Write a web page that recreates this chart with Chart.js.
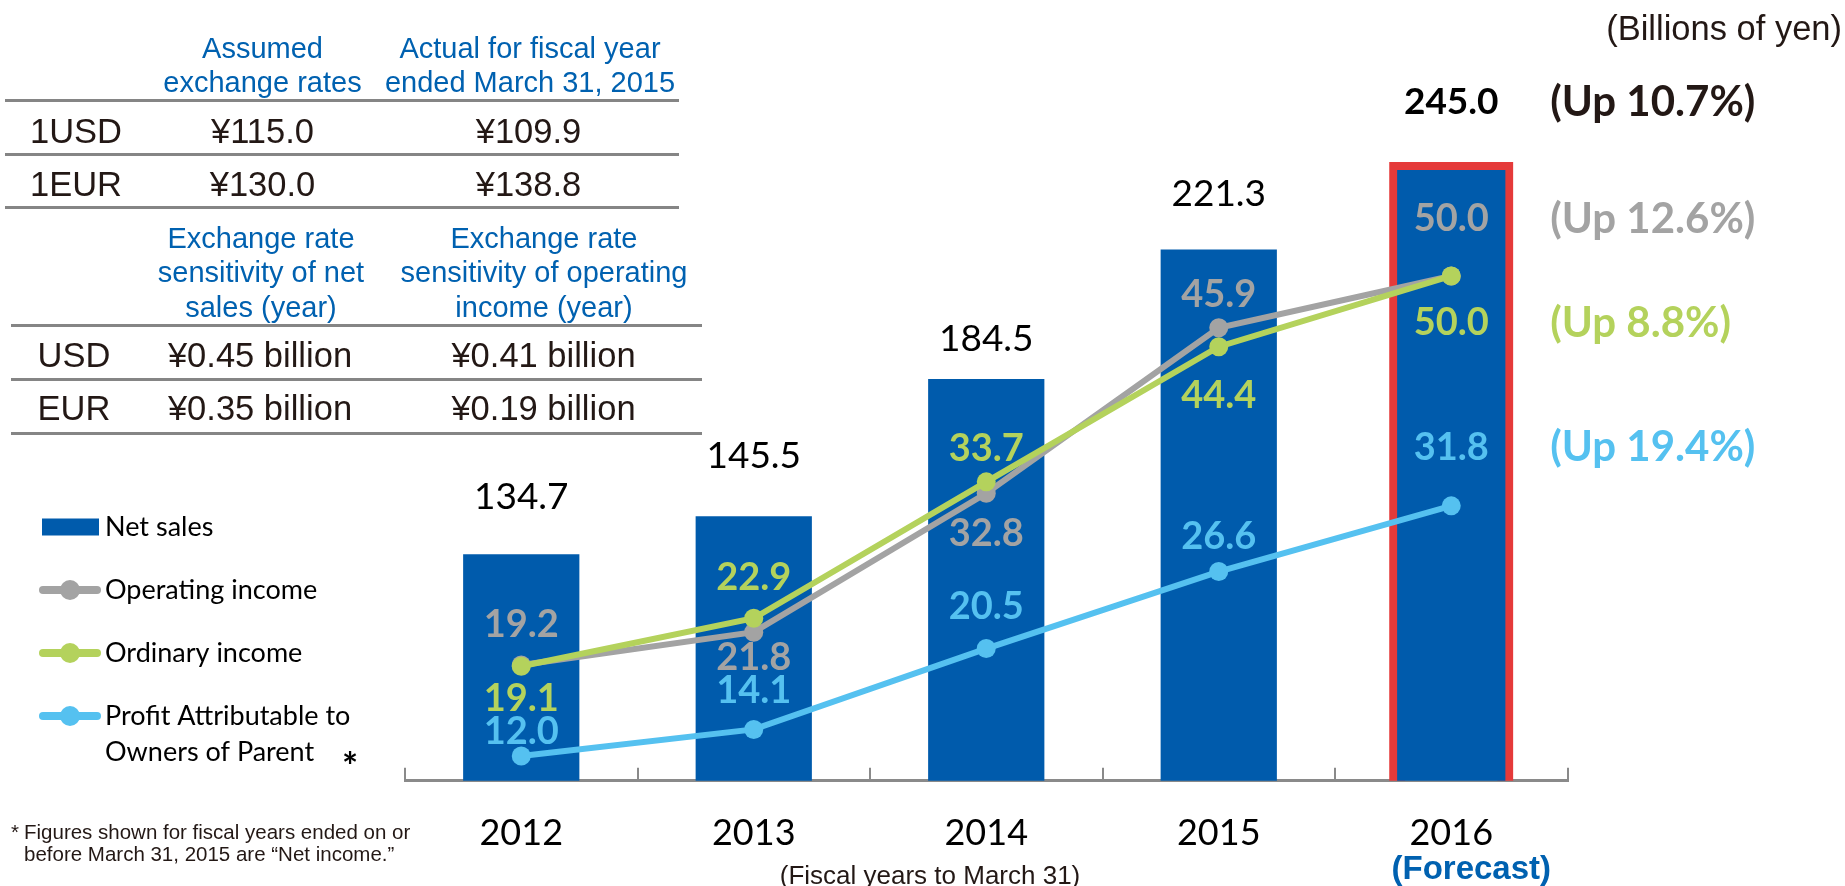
<!DOCTYPE html>
<html>
<head>
<meta charset="utf-8">
<script src="https://cdn.jsdelivr.net/npm/chart.js@4.4.1/dist/chart.umd.min.js"></script>
<style>
  body { margin: 0; background: #fff; overflow: hidden; }
  #wrap { position: relative; width: 1845px; height: 886px; }
  #wrap canvas { position: absolute; left: 0; top: 0; }
  .t { position: absolute; white-space: nowrap; font-family: "Liberation Sans", Arial, sans-serif; color: #231815; }
  .c { transform: translateX(-50%); text-align: center; }
  .hd { color: #0061b0; font-size: 29px; line-height: 34.4px; }
  .cell { font-size: 34.5px; line-height: 34px; }
  .rule { position: absolute; height: 3px; background: #858585; }
</style>
</head>
<body>
<div id="wrap">
  <canvas id="myChart" width="1845" height="886"></canvas>

  <!-- exchange rate table -->
  <div class="t c hd" style="left:262.5px; top:31px">Assumed<br>exchange rates</div>
  <div class="t c hd" style="left:530px; top:31px">Actual for fiscal year<br>ended March 31, 2015</div>
  <div class="rule" style="left:5px; top:98.5px; width:674px"></div>
  <div class="t c cell" style="left:76px; top:114px">1USD</div>
  <div class="t c cell" style="left:262.5px; top:114px">¥115.0</div>
  <div class="t c cell" style="left:528.5px; top:114px">¥109.9</div>
  <div class="rule" style="left:5px; top:152.5px; width:674px"></div>
  <div class="t c cell" style="left:76px; top:167px">1EUR</div>
  <div class="t c cell" style="left:262.5px; top:167px">¥130.0</div>
  <div class="t c cell" style="left:528.5px; top:167px">¥138.8</div>
  <div class="rule" style="left:5px; top:206px; width:674px"></div>

  <div class="t c hd" style="left:261px; top:221px">Exchange rate<br>sensitivity of net<br>sales (year)</div>
  <div class="t c hd" style="left:544px; top:221px">Exchange rate<br>sensitivity of operating<br>income (year)</div>
  <div class="rule" style="left:11px; top:323.5px; width:691px"></div>
  <div class="t c cell" style="left:74px; top:338px">USD</div>
  <div class="t c cell" style="left:260px; top:338px">¥0.45 billion</div>
  <div class="t c cell" style="left:543.5px; top:338px">¥0.41 billion</div>
  <div class="rule" style="left:11px; top:377.5px; width:691px"></div>
  <div class="t c cell" style="left:74px; top:391px">EUR</div>
  <div class="t c cell" style="left:260px; top:391px">¥0.35 billion</div>
  <div class="t c cell" style="left:543.5px; top:391px">¥0.19 billion</div>
  <div class="rule" style="left:11px; top:431.8px; width:691px"></div>

  <div class="t" style="right:3px; top:11px; font-size:34.5px; line-height:34px">(Billions of yen)</div>
  <div class="t c" style="left:930px; top:862px; font-size:26px; line-height:26px">(Fiscal years to March 31)</div>
  <div class="t" style="left:11px; top:821px; font-size:20.5px; line-height:22px">*</div>
  <div class="t" style="left:24px; top:821px; font-size:20.5px; line-height:22px">Figures shown for fiscal years ended on or<br>before March 31, 2015 are “Net income.”</div>
</div>

<script>
// data
const years = ['2012', '2013', '2014', '2015', '2016'];
const netSales = [134.7, 145.5, 184.5, 221.3, 245.0];
const operatingIncome = [19.2, 21.8, 32.8, 45.9, 50.0];
const ordinaryIncome = [19.1, 22.9, 33.7, 44.4, 50.0];
const profitToOwners = [12.0, 14.1, 20.5, 26.6, 31.8];
const forecastChange = ['(Up 10.7%)', '(Up 12.6%)', '(Up 8.8%)', '(Up 19.4%)'];

const BLUE = '#005bac';
const RED = '#e53a3a';
const GRAY = '#a3a3a3';
const GREEN = '#b4d25c';
const SKY = '#55c1f0';
const DARK = '#231815';
const last = years.length - 1;

// where each value label sits relative to its mark (px, negative = above)
const labelShift = [
        [-57, -60, -40, -55, -64],
        [-40, 26, 41, -33, -57],
        [32, -41, -33, 49, 47],
        [-24, -39, -42, -35, -58]
];

const valueLabels = {
        id: 'valueLabels',
        afterDatasetsDraw(chart) {
                const ctx = chart.ctx;
                ctx.save();
                ctx.textBaseline = 'middle';
                chart.data.datasets.forEach((ds, di) => {
                        const meta = chart.getDatasetMeta(di);
                        meta.data.forEach((el, i) => {
                                const y = el.y + labelShift[di][i];
                                if (ds.type === 'bar') {
                                        ctx.font = (i === last ? 'bold ' : '') + '37px Lato';
                                        ctx.fillStyle = '#000';
                                } else {
                                        ctx.font = 'bold 38px Lato';
                                        ctx.fillStyle = ds.borderColor;
                                }
                                ctx.textAlign = 'center';
                                ctx.fillText(ds.data[i].toFixed(1), el.x, y);
                                if (i === last) {
                                        ctx.font = 'bold 42px Lato';
                                        ctx.fillStyle = ds.type === 'bar' ? DARK : ds.borderColor;
                                        ctx.textAlign = 'left';
                                        ctx.fillText(forecastChange[di], el.x + 99, y);
                                }
                        });
                });
                ctx.restore();
        }
};

const sideLegend = {
        id: 'sideLegend',
        afterDraw(chart) {
                const ctx = chart.ctx;
                const rowY = [527, 590, 653, 716];
                ctx.save();
                chart.data.datasets.forEach((ds, di) => {
                        const y = rowY[di];
                        if (ds.type === 'bar') {
                                ctx.fillStyle = ds.backgroundColor;
                                ctx.fillRect(42, y - 8.5, 57, 17);
                        } else {
                                ctx.strokeStyle = ds.borderColor;
                                ctx.lineWidth = 8;
                                ctx.lineCap = 'round';
                                ctx.beginPath();
                                ctx.moveTo(43, y);
                                ctx.lineTo(97, y);
                                ctx.stroke();
                                ctx.fillStyle = ds.borderColor;
                                ctx.beginPath();
                                ctx.arc(70, y, 10, 0, Math.PI * 2);
                                ctx.fill();
                        }
                        ctx.fillStyle = '#000';
                        ctx.font = '27px Lato';
                        ctx.textAlign = 'left';
                        ctx.textBaseline = 'middle';
                        ds.label.split('\n').forEach((line, k) => {
                                ctx.fillText(line, 105, y + k * 36);
                        });
                });
                ctx.font = 'bold 38px Lato';
                ctx.fillText('*', 342, rowY[3] + 52);

                // forecast note under the last year
                const x = chart.scales.x.getPixelForValue(last);
                ctx.font = 'bold 33px "Liberation Sans", Arial';
                ctx.fillStyle = '#0061b0';
                ctx.textAlign = 'center';
                ctx.fillText('(Forecast)', x + 20, 870);
                ctx.restore();
        }
};

const myChart = new Chart(document.getElementById('myChart'), {
        type: 'bar',
        data: {
                labels: years,
                datasets: [{
                        type: 'bar',
                        label: 'Net sales',
                        data: netSales,
                        yAxisID: 'ySales',
                        backgroundColor: BLUE,
                        borderColor: years.map((y, i) => i === last ? RED : BLUE),
                        borderWidth: years.map((y, i) => i === last ? 8 : 0),
                        inflateAmount: years.map((y, i) => i === last ? 4 : 0),
                        borderSkipped: false,
                        categoryPercentage: 1,
                        barPercentage: 0.5,
                        order: 4
                }, {
                        type: 'line',
                        label: 'Operating income',
                        data: operatingIncome,
                        yAxisID: 'yIncome',
                        borderColor: GRAY,
                        backgroundColor: GRAY,
                        pointBackgroundColor: GRAY,
                        borderWidth: 6,
                        pointRadius: 9.5,
                        pointBorderWidth: 0,
                        tension: 0,
                        order: 2
                }, {
                        type: 'line',
                        label: 'Ordinary income',
                        data: ordinaryIncome,
                        yAxisID: 'yIncome',
                        borderColor: GREEN,
                        backgroundColor: GREEN,
                        pointBackgroundColor: GREEN,
                        borderWidth: 6,
                        pointRadius: 9.5,
                        pointBorderWidth: 0,
                        tension: 0,
                        order: 1
                }, {
                        type: 'line',
                        label: 'Profit Attributable to\nOwners of Parent',
                        data: profitToOwners,
                        yAxisID: 'yIncome',
                        borderColor: SKY,
                        backgroundColor: SKY,
                        pointBackgroundColor: SKY,
                        borderWidth: 6,
                        pointRadius: 9.5,
                        pointBorderWidth: 0,
                        tension: 0,
                        order: 3
                }]
        },
        options: {
                responsive: false,
                animation: false,
                layout: { padding: { top: 120, left: 405, right: 277.5, bottom: 30.3 } },
                plugins: { legend: { display: false }, tooltip: { enabled: false } },
                scales: {
                        x: {
                                offset: true,
                                z: 1,
                                grid: { offset: true, drawOnChartArea: false, drawTicks: true, tickLength: -13, color: '#8a8a8a', lineWidth: 2 },
                                border: { display: true, color: '#8a8a8a', width: 3 },
                                ticks: { color: '#000', font: { family: 'Lato', size: 36 }, padding: 44 },
                                afterFit: scale => { scale.height = 75; }
                        },
                        ySales: { display: false, position: 'left', min: 70.3, max: 258.1 },
                        yIncome: { display: false, position: 'right', min: 10.04, max: 62.35 }
                }
        },
        plugins: [valueLabels, sideLegend]
});
</script>
</body>
</html>
